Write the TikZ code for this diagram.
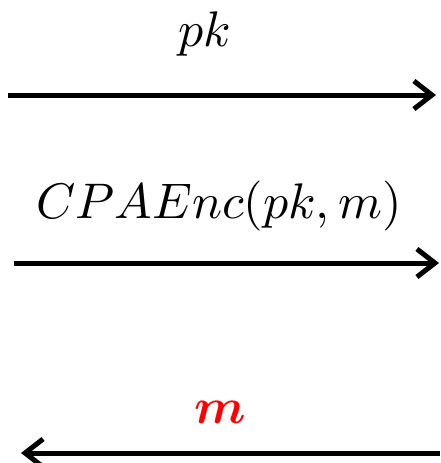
\documentclass[tikz,border=0pt]{standalone}
\usepackage{graphicx}
\usepackage{amsmath,bm}
\usetikzlibrary{arrows.meta}
\newcommand{\bigtxt}[1]{\scalebox{5}{#1}}
\begin{document}
\begin{tikzpicture}[x=1pt,y=-1pt,
  msg/.style={line width=5pt,-{Straight Barb[length=18pt,width=28pt,line width=5pt]}},
  lbl/.style={anchor=base,inner sep=0pt}]
\useasboundingbox (0,0) rectangle (440,463);
\node[lbl] (t1) at (205,46) {\bigtxt{$pk$}};
\coordinate (a1s) at (8,95);
\coordinate (a1e) at (436,95);
\draw[msg] (a1s) -- (a1e);
\node[lbl] (t2) at (219,218) {\bigtxt{$CPAEnc(pk,m)$}};
\coordinate (a2s) at (14,263);
\coordinate (a2e) at (439,263);
\draw[msg] (a2s) -- (a2e);
\node[lbl,text=red] (t3) at (220,423) {\bigtxt{$\bm{m}$}};
\coordinate (a3s) at (440,453);
\coordinate (a3e) at (21,453);
\draw[msg] (a3s) -- (a3e);
\end{tikzpicture}
\end{document}
